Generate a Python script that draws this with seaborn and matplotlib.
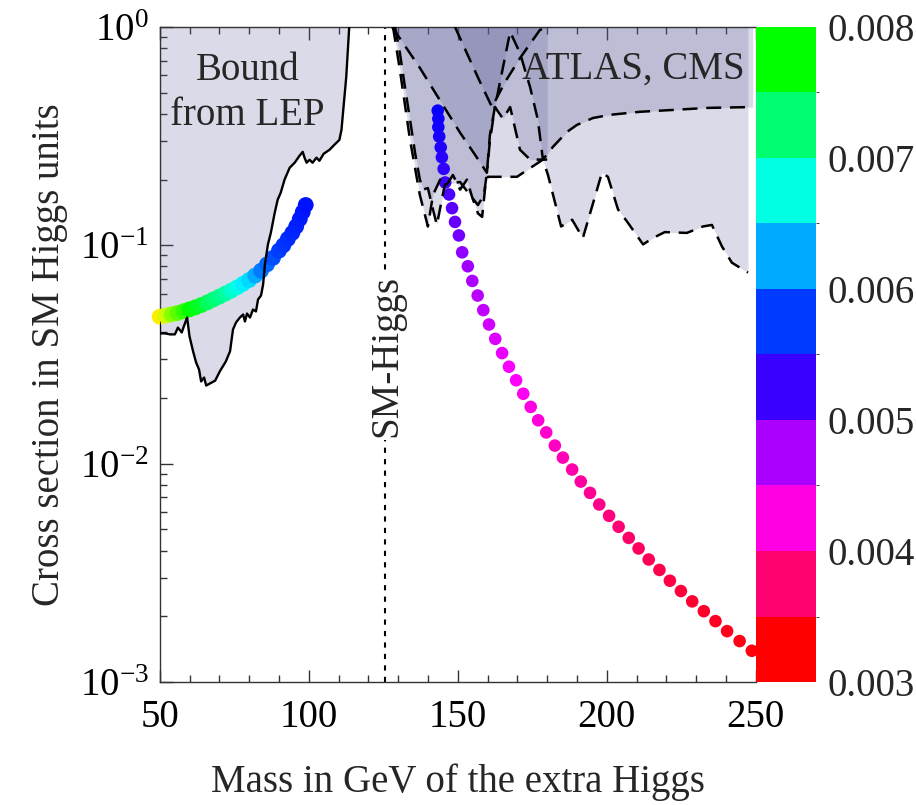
import numpy as np
import matplotlib
matplotlib.use("Agg")
import matplotlib.pyplot as plt
import matplotlib.colors as mcolors
import matplotlib.ticker as mticker
import seaborn as sns
import pandas as pd

# ---------------- data ----------------
# LEP exclusion boundary (shaded above)
lep_mass = [50.0, 50.1, 51.8, 53.5, 55.1, 56.1, 57.4, 58.2, 59.2, 60.0, 61.2, 62.2, 63.2, 63.9,
            64.9, 65.6, 68.6, 70.2, 72.2, 73.6, 74.6, 75.6, 76.9, 78.0, 78.6, 79.3, 80.3, 81.3,
            82.3, 83.0, 84.0, 84.7, 85.3, 86.3, 87.3, 88.6, 89.6, 90.6, 91.9, 93.6, 95.3, 96.9,
            98.0, 98.6, 99.3, 100.3, 101.3, 102.6, 103.6, 105.0, 107.0, 108.6, 110.3, 111.0,
            111.6, 112.6, 113.6]
lep_bound = [0.0443, 0.0395, 0.0395, 0.0391, 0.0391, 0.042, 0.0399, 0.0429, 0.0467, 0.0383,
             0.0327, 0.0291, 0.027, 0.0238, 0.0248, 0.0228, 0.024, 0.0265, 0.0294, 0.0327,
             0.0412, 0.0443, 0.0467, 0.0482, 0.0448, 0.0487, 0.0467, 0.0508, 0.0498, 0.0565,
             0.0589, 0.0661, 0.0816, 0.1007, 0.1143, 0.141, 0.162, 0.174, 0.2, 0.2265, 0.239,
             0.257, 0.268, 0.252, 0.239, 0.2465, 0.239, 0.252, 0.244, 0.2625, 0.274, 0.2886,
             0.304, 0.338, 0.417, 0.59, 1.0]

# ATLAS / CMS exclusion boundaries (each shaded above)
lhc1_mass = [128.3, 130.6, 134.0, 137.3, 140.0, 141.7, 144.1, 146.4, 148.4, 150.8, 153.1, 154.8,
             156.8, 158.2, 159.5, 160.2, 169.9, 178.6, 180.3, 184.7, 188.4, 192.0, 198.4, 200.4,
             203.8, 207.1, 212.2, 215.5, 219.5, 226.9, 232.3, 235.3, 238.7, 242.0, 247.4]
lhc1_bound = [1.0, 0.636, 0.304, 0.17, 0.122, 0.17, 0.2, 0.19, 0.21, 0.18, 0.2, 0.167, 0.14,
              0.135, 0.2, 0.206, 0.206, 0.247, 0.21, 0.122, 0.131, 0.108, 0.215, 0.206, 0.146,
              0.127, 0.101, 0.108, 0.115, 0.114, 0.122, 0.124, 0.0987, 0.0833, 0.075]

lhc2_mass = [129.0, 130.6, 132.3, 134.0, 135.7, 137.3, 138.4, 140.0, 141.7, 143.0, 145.7, 150.8,
             154.1, 156.8, 158.8, 159.8, 160.8, 162.5, 167.6, 170.9, 174.3, 176.9, 178.6, 182.0,
             186.7, 190.0, 195.4, 201.1, 211.2, 222.3, 233.7, 249.0]
lhc2_bound = [1.0, 0.76, 0.53, 0.376, 0.265, 0.2, 0.18, 0.183, 0.146, 0.124, 0.19, 0.195, 0.17,
              0.153, 0.17, 0.215, 0.32, 0.43, 0.95, 0.76, 0.53, 0.376, 0.247, 0.283, 0.331,
              0.356, 0.383, 0.396, 0.409, 0.417, 0.426, 0.43]

lhc3_mass = [128.0, 137.3, 144.1, 150.8, 155.8, 159.8, 160.8, 162.5, 165.2, 167.6, 170.9, 174.3, 180.0]
lhc3_bound = [1.0, 0.65, 0.46, 0.328, 0.26, 0.215, 0.30, 0.43, 0.38, 0.43, 0.274, 0.247, 0.247]

lhc4_mass = [149.1, 154.1, 157.5, 161.5, 165.9, 170.9, 177.6, 181.0]
lhc4_bound = [1.0, 0.707, 0.56, 0.43, 0.56, 0.72, 0.97, 1.0]

# light-Higgs solutions (coloured by parameter)
light_mass = [50, 52, 54, 56, 58, 60, 62, 64, 66, 68, 70, 72, 74, 76, 78, 80, 82, 84, 86, 88,
              90, 91.5, 93, 94.5, 95.8, 97, 98, 99]
light_xsec = [0.0471, 0.0477, 0.0483, 0.049, 0.0499, 0.0509, 0.052, 0.0533, 0.0548, 0.0565,
              0.0582, 0.0601, 0.062, 0.0642, 0.0667, 0.0694, 0.0727, 0.0765, 0.0818, 0.0876,
              0.0945, 0.1, 0.107, 0.114, 0.122, 0.132, 0.142, 0.153]
light_par = [0.0087, 0.0084, 0.0081, 0.0079, 0.0077, 0.0075, 0.0074, 0.0073, 0.0071, 0.0070,
             0.0069, 0.0068, 0.0066, 0.0065, 0.0063, 0.0062, 0.0060, 0.0058, 0.0057, 0.0056,
             0.00553, 0.00548, 0.00545, 0.00542, 0.0054, 0.00537, 0.00535, 0.00533]

# heavy-Higgs solutions
heavy_mass = [143.3, 143.5, 143.5, 143.8, 144.3, 144.7, 145.3, 145.8, 147.1, 148.1, 149.1, 150.4,
              151.5, 153.4, 154.9, 156.7, 158.6, 160.5, 162.6, 164.9, 167.2, 169.6, 172.0, 174.5,
              177.0, 179.7, 182.6, 185.3, 188.4, 191.3, 194.4, 197.5, 200.8, 204.0, 207.4, 210.7,
              214.1, 217.7, 221.2, 224.9, 228.7, 232.6, 236.5, 240.4, 244.6, 248.7]
heavy_xsec = [0.414, 0.380, 0.348, 0.315, 0.281, 0.253, 0.224, 0.194, 0.171, 0.148, 0.128, 0.111,
              0.0929, 0.0802, 0.0687, 0.0589, 0.0505, 0.0434, 0.0373, 0.0321, 0.0278, 0.0241,
              0.0209, 0.0182, 0.0158, 0.0139, 0.0121, 0.01066, 0.0094, 0.00828, 0.00735, 0.0065,
              0.00577, 0.00514, 0.00457, 0.00409, 0.00364, 0.00326, 0.00291, 0.00261, 0.00234,
              0.00211, 0.0019, 0.00171, 0.00154, 0.00139]
heavy_par = [0.00522, 0.00520, 0.00518, 0.00515, 0.00512, 0.00508, 0.00503, 0.00498, 0.00492,
             0.00486, 0.00480, 0.00474, 0.00462, 0.00455, 0.00449, 0.00444, 0.00440, 0.00434,
             0.00428, 0.00422, 0.00416, 0.00411, 0.00406, 0.00401, 0.00396, 0.00391, 0.00386,
             0.00381, 0.00376, 0.00371, 0.00366, 0.00361, 0.00356, 0.00352, 0.00347, 0.00343,
             0.00339, 0.00335, 0.00331, 0.00327, 0.00323, 0.00320, 0.00316, 0.00313, 0.00310,
             0.00307]

sm_higgs_mass = 125.5
cbar_ticks = [0.003, 0.004, 0.005, 0.006, 0.007, 0.008]
cbar_bounds = [0.003, 0.0035, 0.004, 0.0045, 0.005, 0.0055, 0.006, 0.0065, 0.007, 0.0075, 0.008]

# ---------------- style ----------------
sns.set_style("ticks")
plt.rcParams['font.family'] = ['Liberation Serif', 'DejaVu Serif']
plt.rcParams['mathtext.fontset'] = 'stix'
FS = 28

# hue colour scale (red at 0.003 -> green at 0.0075 -> yellow beyond)
VMIN, VMAX = 0.003, 0.009
s = np.linspace(0, 1, 512)
vals = VMIN + (VMAX - VMIN) * s
hues = np.clip(1 - (vals - 0.003) / 0.00675, 0, 1)
cmap = mcolors.ListedColormap(mcolors.hsv_to_rgb(np.stack([hues, np.ones_like(hues), np.ones_like(hues)], axis=1)))
norm = mcolors.Normalize(VMIN, VMAX)

fig = plt.figure(figsize=(9.16, 8.05), dpi=100)
L, R, T, B = 159.7, 755.7, 27, 682
ax = fig.add_axes([L / 916, (805 - B) / 805, (R - L) / 916, (B - T) / 805])
cax = fig.add_axes([756 / 916, (805 - B) / 805, 60 / 916, (B - T) / 805])

ax.set_yscale('log')
ax.set_xlim(50, 250)
ax.set_ylim(1e-3, 1)

# shaded exclusion regions
shade = '#5A5A99'
ax.fill_between(lep_mass, lep_bound, 1.0, color=shade, alpha=0.22, lw=0, zorder=1)
for m, b in [(lhc1_mass, lhc1_bound), (lhc2_mass, lhc2_bound), (lhc3_mass, lhc3_bound), (lhc4_mass, lhc4_bound)]:
    ax.fill_between(m, b, 1.0, color=shade, alpha=0.22, lw=0, zorder=1)

# solution points
df_light = pd.DataFrame({'m': light_mass, 'x': light_xsec, 'p': light_par})
df_heavy = pd.DataFrame({'m': heavy_mass, 'x': heavy_xsec, 'p': heavy_par})
sns.scatterplot(data=df_light, x='m', y='x', hue='p', palette=cmap, hue_norm=norm,
                s=130, linewidth=0, legend=False, ax=ax, zorder=3, clip_on=False)
sns.scatterplot(data=df_heavy, x='m', y='x', hue='p', palette=cmap, hue_norm=norm,
                s=82, linewidth=0, legend=False, ax=ax, zorder=3, clip_on=False)

# boundary lines
ax.plot(lep_mass, lep_bound, color='black', lw=1.7, zorder=4)
for m, b in [(lhc1_mass, lhc1_bound), (lhc2_mass, lhc2_bound), (lhc3_mass, lhc3_bound), (lhc4_mass, lhc4_bound)]:
    ax.plot(m, b, color='black', lw=1.8, dashes=(6, 3.5), zorder=4)

# SM Higgs line
ax.axvline(sm_higgs_mass, color='black', lw=1.5, dashes=(2.5, 3), zorder=2)
ax.text(sm_higgs_mass + 0.8, 0.031, 'SM-Higgs', rotation=90, ha='center', va='center', fontsize=FS,
        bbox=dict(facecolor='white', edgecolor='none', pad=2), zorder=5)

ax.text(79.5, 0.50, 'Bound\nfrom LEP', ha='center', va='center', fontsize=FS, linespacing=1.3, zorder=5)
ax.text(209, 0.64, 'ATLAS, CMS', ha='center', va='center', fontsize=FS, zorder=5)

# axes styling
ax.set_xticks([50, 100, 150, 200, 250])
ax.xaxis.set_minor_locator(mticker.MultipleLocator(10))
ax.yaxis.set_major_locator(mticker.LogLocator(base=10, numticks=10))
ax.yaxis.set_minor_locator(mticker.LogLocator(base=10, subs=np.arange(2, 10), numticks=10))
ax.yaxis.set_minor_formatter(mticker.NullFormatter())
ax.tick_params(which='both', direction='in', top=True, right=False, colors='#333333', labelcolor='black',
               labelsize=FS, width=1.0)
ax.tick_params(which='major', length=9)
ax.tick_params(which='minor', length=5)
ax.tick_params(axis='x', pad=12)
ax.tick_params(axis='y', pad=8)
for sp in ['left', 'bottom', 'top']:
    ax.spines[sp].set_color('#333333')
    ax.spines[sp].set_linewidth(1.0)
ax.spines['right'].set_visible(False)

ax.set_xlabel('Mass in GeV of the extra Higgs', fontsize=FS, labelpad=20)
ax.set_ylabel('Cross section in SM Higgs units', fontsize=FS, labelpad=8)

# colour bar (discrete)
edge_cols = [cmap(norm(b)) for b in cbar_bounds[:-1]]
cb_cmap = mcolors.ListedColormap(edge_cols)
cb_norm = mcolors.BoundaryNorm(cbar_bounds, cb_cmap.N)
sm = matplotlib.cm.ScalarMappable(norm=cb_norm, cmap=cb_cmap)
cb = fig.colorbar(sm, cax=cax, ticks=cbar_ticks, format=mticker.FormatStrFormatter('%.3f'))
cb.outline.set_visible(False)
cax.tick_params(length=0, labelsize=FS, pad=8)

fig.savefig('out.png', dpi=100)
